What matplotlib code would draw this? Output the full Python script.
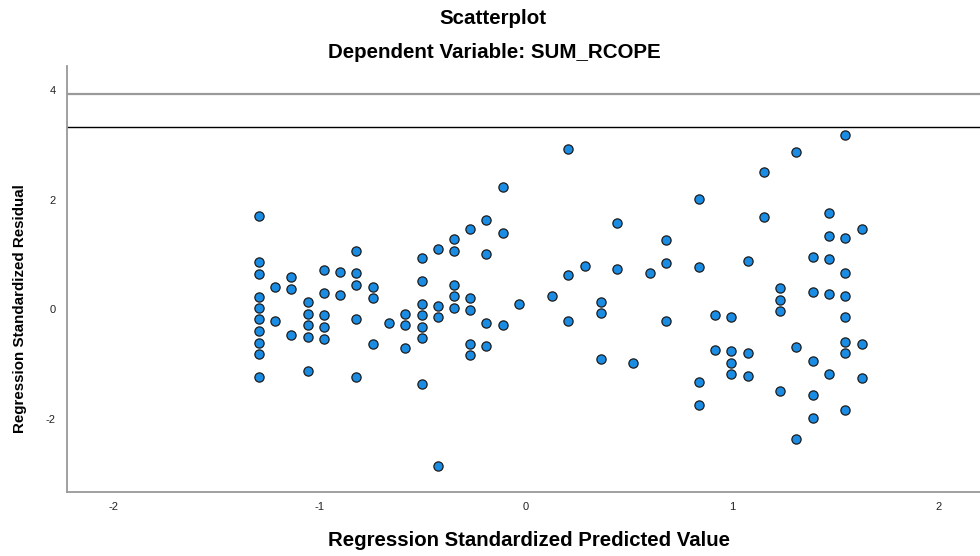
import matplotlib

matplotlib.use("Agg")
import matplotlib.pyplot as plt

# regression standardized predicted value (x) and standardized residual (y)
predicted = [
    -1.293, -1.293, -1.293, -1.293, -1.293, -1.293, -1.293, -1.293, -1.293, -1.293,
    -1.216, -1.216,
    -1.137, -1.137, -1.137,
    -1.057, -1.057, -1.057, -1.057, -1.057,
    -0.977, -0.977, -0.977, -0.977, -0.977,
    -0.899, -0.899,
    -0.821, -0.821, -0.821, -0.821, -0.821,
    -0.743, -0.743, -0.743,
    -0.663,
    -0.585, -0.585, -0.585,
    -0.506, -0.506, -0.506, -0.506, -0.506, -0.506, -0.506,
    -0.427, -0.427, -0.427, -0.427,
    -0.348, -0.348, -0.348, -0.348, -0.348,
    -0.269, -0.269, -0.269, -0.269, -0.269,
    -0.192, -0.192, -0.192, -0.192,
    -0.113, -0.113, -0.113,
    -0.035,
    0.124,
    0.205, 0.205, 0.205,
    0.284,
    0.362, 0.362, 0.362,
    0.441, 0.441,
    0.520,
    0.599,
    0.678, 0.678, 0.678,
    0.836, 0.836, 0.836, 0.836,
    0.915, 0.915,
    0.994, 0.994, 0.994, 0.994,
    1.074, 1.074, 1.074,
    1.151, 1.151,
    1.230, 1.230, 1.230, 1.230,
    1.309, 1.309, 1.309,
    1.388, 1.388, 1.388, 1.388, 1.388,
    1.467, 1.467, 1.467, 1.467, 1.467,
    1.546, 1.546, 1.546, 1.546, 1.546, 1.546, 1.546, 1.546,
    1.626, 1.626, 1.626,
]
residual = [
    1.70, 0.86, 0.645, 0.225, 0.024, -0.183, -0.407, -0.615, -0.822, -1.248,
    0.40, -0.225,
    0.58, 0.365, -0.469,
    0.128, -0.091, -0.298, -0.506, -1.138,
    0.718, 0.298, -0.115, -0.323, -0.542,
    0.682, 0.262,
    1.065, 0.652, 0.438, -0.188, -1.242,
    0.402, 0.195, -0.639,
    -0.262,
    -0.085, -0.298, -0.712,
    0.93, 0.517, 0.091, -0.115, -0.323, -0.535, -1.375,
    1.10, 0.06, -0.152, -2.86,
    1.279, 1.065, 0.438, 0.231, 0.024,
    1.456, 0.195, -0.012, -0.639, -0.846,
    1.631, 1.005, -0.262, -0.67,
    2.228, 1.388, -0.292,
    0.091,
    0.237,
    2.93, 0.621, -0.219,
    0.791,
    0.128, -0.073, -0.919,
    1.565, 0.731,
    -0.986,
    0.652,
    1.255, 0.835, -0.219,
    2.02, 0.767, -1.333, -1.753,
    -0.115, -0.743,
    -0.146, -0.773, -0.986, -1.193,
    0.871, -0.804, -1.224,
    2.508, 1.675,
    0.384, 0.17, -0.037, -1.503,
    2.862, -0.70, -2.38,
    0.944, 0.31, -0.95, -1.577, -1.997,
    1.748, 1.327, 0.913, 0.279, -1.187,
    3.18, 1.297, 0.663, 0.243, -0.152, -0.597, -0.804, -1.85,
    1.467, -0.634, -1.26,
]
x_ticks = [-2, -1, 0, 1, 2]
y_ticks = [-2, 0, 2, 4]
ref_lines = [3.93, 3.33]

plt.rcParams["font.family"] = ["Liberation Sans", "DejaVu Sans"]
plt.rcParams["axes.unicode_minus"] = False

fig = plt.figure(figsize=(9.8, 5.56), dpi=100)
ax = fig.add_axes([67 / 980, 64 / 556, 1 - 67 / 980, 426 / 556])

ax.scatter(predicted, residual, s=44, color="#1A8CE3", edgecolors="#1c1c1c",
           linewidths=0.9, zorder=3)
ax.axhline(ref_lines[0], color="#9a9a9a", linewidth=1.6, zorder=2)
ax.axhline(ref_lines[1], color="black", linewidth=1.0, zorder=2)

ax.set_xlim(-2.223, 2.199)
ax.set_ylim(-3.34, 4.44)
ax.set_xticks(x_ticks)
ax.set_yticks(y_ticks)
ax.tick_params(length=0, labelsize=8, colors="#222222")
ax.tick_params(axis="x", pad=7)
ax.tick_params(axis="y", pad=8)
for side in ("top", "right"):
    ax.spines[side].set_visible(False)
for side in ("left", "bottom"):
    ax.spines[side].set_color("#999999")
    ax.spines[side].set_linewidth(1.3)

fig.text(0.503, 1 - 18 / 556, "Scatterplot", ha="center", va="center",
         fontsize=14.8, fontweight="bold")
fig.text(0.504, 1 - 52 / 556, "Dependent Variable: SUM_RCOPE", ha="center",
         va="center", fontsize=14.8, fontweight="bold")
fig.text(529 / 980, 1 - 540 / 556, "Regression Standardized Predicted Value",
         ha="center", va="center", fontsize=14.7, fontweight="bold")
fig.text(20 / 980, 1 - 309 / 556, "Regression Standardized Residual",
         ha="center", va="center", rotation=90, fontsize=10.9,
         fontweight="bold")

fig.savefig("out.png", dpi=100)
plt.close(fig)
